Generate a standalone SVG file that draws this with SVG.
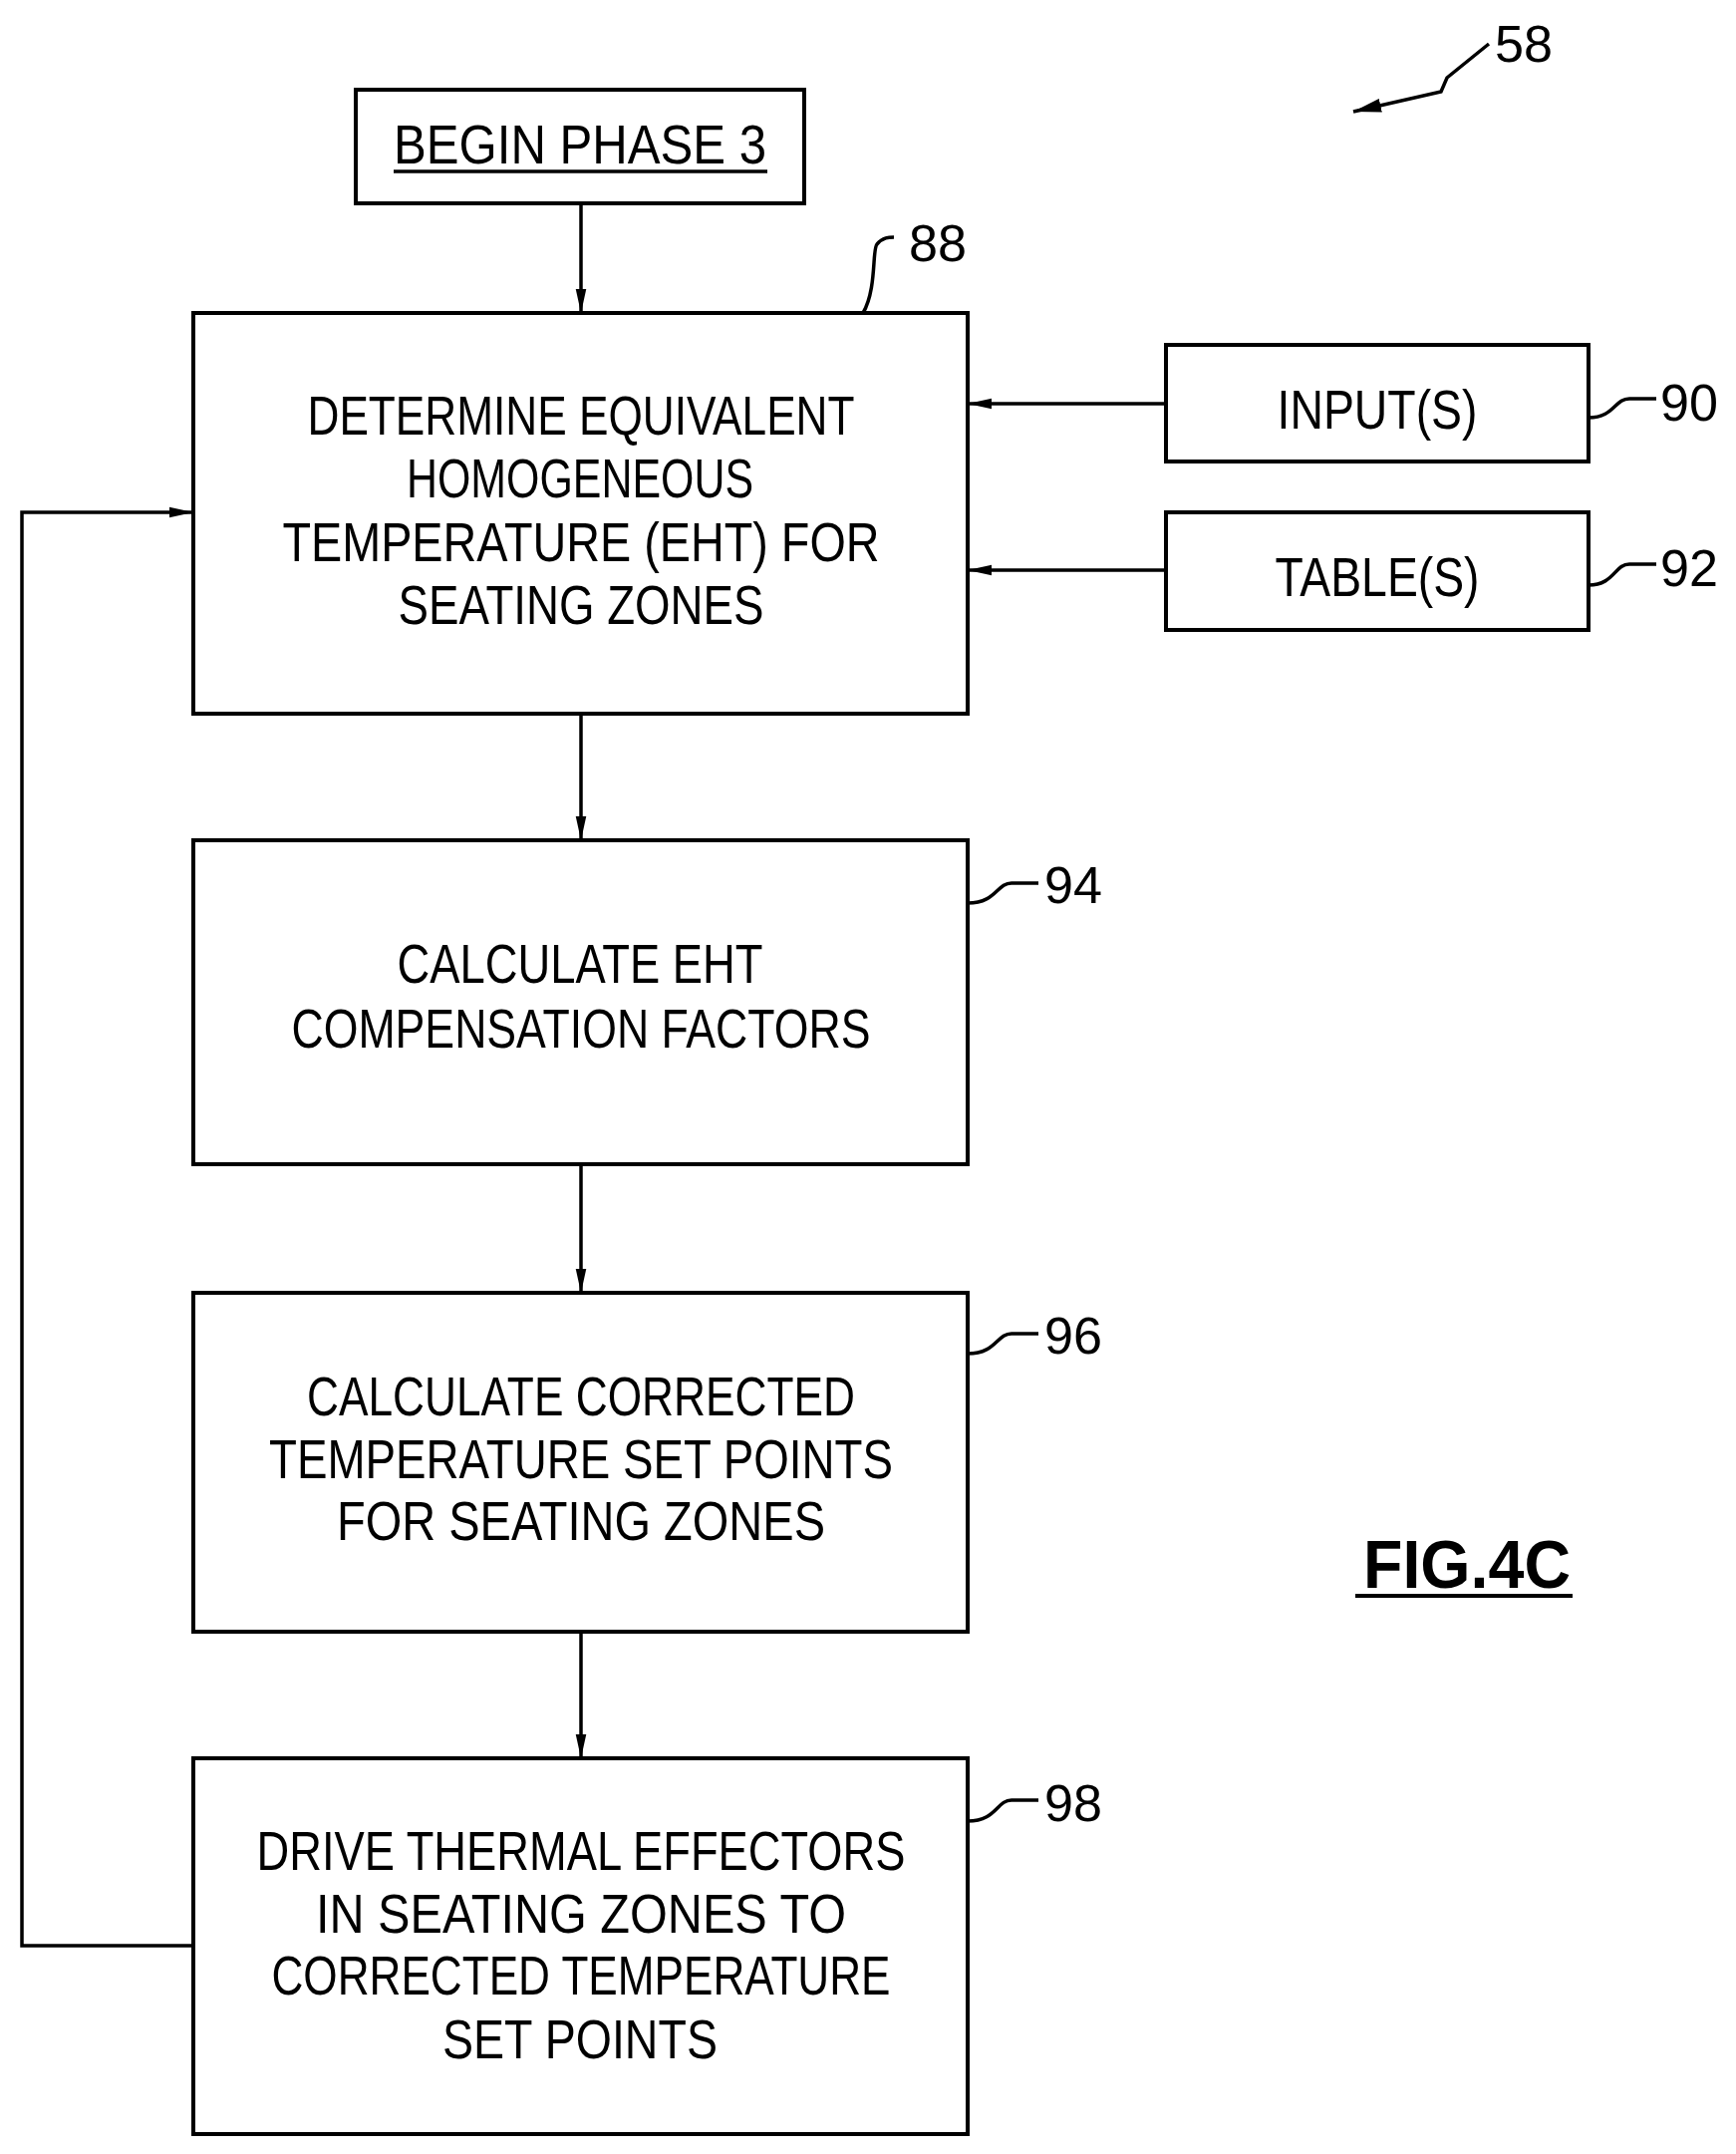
<svg xmlns="http://www.w3.org/2000/svg" width="1742" height="2161" viewBox="0 0 1742 2161">
<style>
.b{fill:none;stroke:#000;stroke-width:4}
.l{fill:none;stroke:#000;stroke-width:3.5}
text{font-family:"Liberation Sans",Arial,sans-serif;font-size:56px;fill:#000;text-anchor:middle}
.n{font-size:52px;text-anchor:start}
</style>
<defs><marker id="a" viewBox="0 0 10 10" refX="10" refY="5" markerWidth="24" markerHeight="24" markerUnits="userSpaceOnUse" orient="auto"><path d="M0,2.8L10,5L0,7.2z" fill="#000"/></marker>
<marker id="a2" viewBox="0 0 10 10" refX="10" refY="5" markerWidth="28" markerHeight="28" markerUnits="userSpaceOnUse" orient="auto"><path d="M0,2.5L10,5L0,7.5z" fill="#000"/></marker></defs>
<rect width="1742" height="2161" fill="#fff"/>
<g id="begin"><rect class="b" x="357" y="90" width="450" height="114"/><text x="582" y="164" textLength="374" lengthAdjust="spacingAndGlyphs">BEGIN  PHASE  3</text><line class="l" x1="395" y1="172" x2="770" y2="172"/></g>
<g id="n88"><rect class="b" x="194" y="314" width="777" height="402"/>
<text x="583" y="436" textLength="549" lengthAdjust="spacingAndGlyphs">DETERMINE  EQUIVALENT</text>
<text x="582" y="499" textLength="348" lengthAdjust="spacingAndGlyphs">HOMOGENEOUS</text>
<text x="583" y="563" textLength="599" lengthAdjust="spacingAndGlyphs">TEMPERATURE  (EHT)  FOR</text>
<text x="583" y="626" textLength="367" lengthAdjust="spacingAndGlyphs">SEATING  ZONES</text>
<path class="l" d="M866,314 C880,290 875,250 880,245 C886,238 892,238 897,238"/><text class="n" x="912" y="262" textLength="58" lengthAdjust="spacingAndGlyphs">88</text></g>
<g id="n90"><rect class="b" x="1170" y="346" width="424" height="117"/><text x="1382" y="430" textLength="201" lengthAdjust="spacingAndGlyphs">INPUT(S)</text>
<path class="l" d="M1594,419 C1620,419 1620,400 1635,400 L1662,400"/><text class="n" x="1666" y="422" textLength="58" lengthAdjust="spacingAndGlyphs">90</text></g>
<g id="n92"><rect class="b" x="1170" y="514" width="424" height="118"/><text x="1382" y="598" textLength="205" lengthAdjust="spacingAndGlyphs">TABLE(S)</text>
<path class="l" d="M1594,587 C1620,587 1620,566 1635,566 L1662,566"/><text class="n" x="1666" y="588" textLength="58" lengthAdjust="spacingAndGlyphs">92</text></g>
<g id="n94"><rect class="b" x="194" y="843" width="777" height="325"/>
<text x="582" y="986" textLength="367" lengthAdjust="spacingAndGlyphs">CALCULATE  EHT</text>
<text x="583" y="1051" textLength="581" lengthAdjust="spacingAndGlyphs">COMPENSATION  FACTORS</text>
<path class="l" d="M971,906 C1000,906 1000,886 1015,886 L1042,886"/><text class="n" x="1048" y="906" textLength="58" lengthAdjust="spacingAndGlyphs">94</text></g>
<g id="n96"><rect class="b" x="194" y="1297" width="777" height="340"/>
<text x="583" y="1420" textLength="550" lengthAdjust="spacingAndGlyphs">CALCULATE  CORRECTED</text>
<text x="583" y="1483" textLength="626" lengthAdjust="spacingAndGlyphs">TEMPERATURE  SET  POINTS</text>
<text x="583" y="1545" textLength="490" lengthAdjust="spacingAndGlyphs">FOR  SEATING  ZONES</text>
<path class="l" d="M971,1358 C1000,1358 1000,1338 1015,1338 L1042,1338"/><text class="n" x="1048" y="1358" textLength="58" lengthAdjust="spacingAndGlyphs">96</text></g>
<g id="n98"><rect class="b" x="194" y="1764" width="777" height="377"/>
<text x="583" y="1876" textLength="651" lengthAdjust="spacingAndGlyphs">DRIVE  THERMAL  EFFECTORS</text>
<text x="583" y="1939" textLength="532" lengthAdjust="spacingAndGlyphs">IN  SEATING  ZONES  TO</text>
<text x="583" y="2001" textLength="621" lengthAdjust="spacingAndGlyphs">CORRECTED  TEMPERATURE</text>
<text x="582" y="2065" textLength="276" lengthAdjust="spacingAndGlyphs">SET  POINTS</text>
<path class="l" d="M971,1827 C1000,1827 1000,1806 1015,1806 L1042,1806"/><text class="n" x="1048" y="1827" textLength="58" lengthAdjust="spacingAndGlyphs">98</text></g>
<g id="fig"><text x="1472" y="1593" style="font-weight:bold;font-size:68px" textLength="208" lengthAdjust="spacingAndGlyphs">FIG.4C</text><line x1="1360" y1="1601" x2="1578" y2="1601" stroke="#000" stroke-width="4"/>
<text class="n" x="1500" y="62" textLength="58" lengthAdjust="spacingAndGlyphs">58</text></g>
<g id="connectors">
<line class="l" x1="583" y1="204" x2="583" y2="314" marker-end="url(#a)"/>
<line class="l" x1="1170" y1="405" x2="971" y2="405" marker-end="url(#a)"/>
<line class="l" x1="1170" y1="572" x2="971" y2="572" marker-end="url(#a)"/>
<line class="l" x1="583" y1="716" x2="583" y2="843" marker-end="url(#a)"/>
<line class="l" x1="583" y1="1168" x2="583" y2="1297" marker-end="url(#a)"/>
<line class="l" x1="583" y1="1637" x2="583" y2="1764" marker-end="url(#a)"/>
<polyline class="l" points="194,1952 22,1952 22,514 194,514" marker-end="url(#a)"/>
<path class="l" d="M1494,44 L1452,78 L1446,92 L1358,112" marker-end="url(#a2)"/>
</g>
</svg>
